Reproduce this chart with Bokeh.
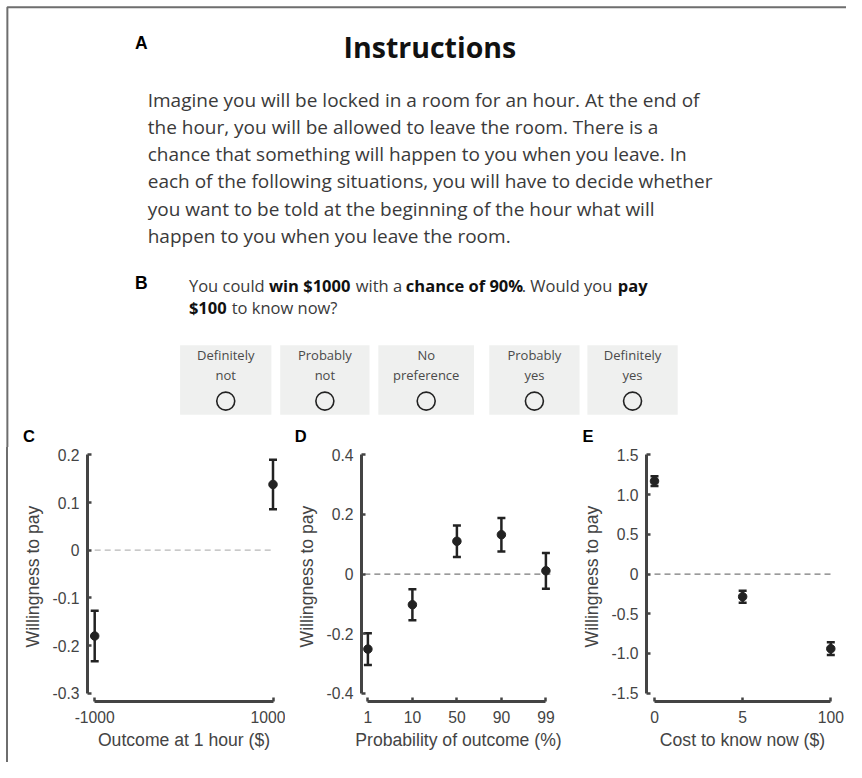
from bokeh.plotting import figure
from bokeh.layouts import row, column
from bokeh.models import Range1d, FixedTicker, Div, Spacer
from bokeh.core.properties import value
from bokeh.embed import file_html
from bokeh.resources import INLINE

# ---------------- data ----------------
# Panel C: outcome at 1 hour ($)
c_outcome = [-1000, 1000]
c_mean = [-0.180, 0.138]
c_err = [0.053, 0.052]
c_yticks = [-0.3, -0.2, -0.1, 0, 0.1, 0.2]
c_ylabels = ["-0.3", "-0.2", "-0.1", "0", "0.1", "0.2"]

# Panel D: probability of outcome (%)
d_prob = ["1", "10", "50", "90", "99"]
d_mean = [-0.252, -0.103, 0.110, 0.132, 0.011]
d_err = [0.053, 0.052, 0.053, 0.056, 0.060]
d_yticks = [-0.4, -0.2, 0, 0.2, 0.4]
d_ylabels = ["-0.4", "-0.2", "0", "0.2", "0.4"]

# Panel E: cost to know now ($)
e_cost = ["0", "5", "100"]
e_mean = [1.170, -0.285, -0.940]
e_err = [0.060, 0.075, 0.080]
e_yticks = [-1.5, -1.0, -0.5, 0, 0.5, 1.0, 1.5]
e_ylabels = ["-1.5", "-1.0", "-0.5", "0", "0.5", "1.0", "1.5"]

# Panel A / B texts
title_text = "Instructions"
paragraph = [
    "Imagine you will be locked in a room for an hour. At the end of",
    "the hour, you will be allowed to leave the room. There is a",
    "chance that something will happen to you when you leave. In",
    "each of the following situations, you will have to decide whether",
    "you want to be told at the beginning of the hour what will",
    "happen to you when you leave the room.",
]
q_line1 = ["You could", "win $1000", "with a", "chance of 90%", ". Would you", "pay"]
q_line1_bold = [False, True, False, True, False, True]
q_line2 = ["$100", "to know now?"]
q_line2_bold = [True, False]
options_top = ["Definitely", "Probably", "No", "Probably", "Definitely"]
options_bottom = ["not", "not", "preference", "yes", "yes"]

# ---------------- style ----------------
AX = "#444444"
DARK = "#222222"
BORDER = "#6e6e6e"
SANS = "Liberation Sans"
WEB = "Open Sans"

W, H = 846, 762
TOP_H = 447
PAN_H = H - TOP_H
SX = W / 862.0
SY = H / 778.0

# ---------------- top (A, B) ----------------
top = figure(width=W, height=TOP_H, x_range=Range1d(0, W / SX), y_range=Range1d(TOP_H / SY, 0),
             output_backend="svg", toolbar_location=None, min_border=0,
             x_axis_type=None, y_axis_type=None, outline_line_color=None)
top.grid.visible = False

# frame border (top and left)
top.line(x=[7, 7, W / SX], y=[TOP_H / SY, 7, 7], line_color=BORDER, line_width=2)

# panel letters
top.text(x=[143.5, 143.5], y=[43.5, 288.5], text=["A", "B"], text_font=value(SANS),
         text_font_style="bold", text_font_size="17.5px", text_align="center",
         text_baseline="middle", text_color="#000000")
top.text(x=[29, 306, 598.5], y=[445, 445, 445], text=["C", "D", "E"], text_font=value(SANS),
         text_font_style="bold", text_font_size="16.5px", text_align="center",
         text_baseline="middle", text_color="#000000")

top.text(x=[437.5], y=[47.5], text=[title_text], text_font=value(WEB), text_font_style="bold",
         text_font_size="28.5px", text_align="center", text_baseline="middle",
         text_color="#111111")

para_y = [102 + 27.6 * i for i in range(len(paragraph))]
top.text(x=[150] * len(paragraph), y=para_y, text=paragraph, text_font=value(WEB),
         text_font_size="19px", text_align="left", text_baseline="middle", text_color="#3a3a3a")

# question with bold segments
q1_x = [192, 273.5, 362, 413, 531, 629]
q2_x = [192, 235.5]
for segs, bolds, xs, yy in ((q_line1, q_line1_bold, q1_x, 291), (q_line2, q_line2_bold, q2_x, 313)):
    for s, b, xx in zip(segs, bolds, xs):
        top.text(x=[xx], y=[yy], text=[s], text_font=value(WEB),
                 text_font_style="bold" if b else "normal", text_font_size="16.5px",
                 text_align="left", text_baseline="middle",
                 text_color="#111111" if b else "#3a3a3a")

# response boxes
box_left = [183, 285, 385, 498, 598]
box_right = [276, 376, 482.5, 590, 690]
box_cx = [(l + r) / 2 for l, r in zip(box_left, box_right)]
top.quad(left=box_left, right=box_right, top=[352] * 5, bottom=[423] * 5,
         fill_color="#eff0ef", line_color=None)
top.text(x=box_cx, y=[362] * 5, text=options_top, text_font=value(WEB), text_font_size="13px",
         text_align="center", text_baseline="middle", text_color="#4a4a4a")
top.text(x=box_cx, y=[382] * 5, text=options_bottom, text_font=value(WEB), text_font_size="13px",
         text_align="center", text_baseline="middle", text_color="#4a4a4a")
top.scatter(x=box_cx, y=[409] * 5, marker="circle", size=18, fill_color=None,
            line_color="#222222", line_width=1.6)

# ---------------- panels ----------------
MB_TOP, MB_BOTTOM = 4, 61
FRAME_H = PAN_H - MB_TOP - MB_BOTTOM      # 250
BOUND_TOP_PAD, BOUND_BOT_PAD = 3.4, 8.3


def y_range_for(lo, hi):
    scale = (FRAME_H - BOUND_TOP_PAD - BOUND_BOT_PAD) / (hi - lo)
    return Range1d(lo - BOUND_BOT_PAD / scale, hi + BOUND_TOP_PAD / scale)


def x_range_for(first_val, last_val, first_px, last_px, frame_w):
    scale = (last_px - first_px) / (last_val - first_val)
    start = first_val - first_px / scale
    return Range1d(start, start + frame_w / scale)


def panel(width, mleft, mright, first_px, last_px, xticks, xlabels, yticks, ylabels, xlabel,
          x, mean, err, zero_x, zero_color):
    frame_w = width - mleft - mright
    p = figure(width=width, height=PAN_H,
               x_range=x_range_for(xticks[0], xticks[-1], first_px, last_px, frame_w),
               y_range=y_range_for(yticks[0], yticks[-1]),
               output_backend="svg", toolbar_location=None,
               min_border_left=mleft, min_border_right=mright, min_border_top=MB_TOP,
               min_border_bottom=MB_BOTTOM, outline_line_color=None)
    p.grid.visible = False
    for ax in (p.xaxis[0], p.yaxis[0]):
        ax.axis_line_color = AX
        ax.axis_line_width = 3
        ax.major_tick_line_color = AX
        ax.major_tick_line_width = 2.5
        ax.major_tick_in = 4
        ax.major_tick_out = 0
        ax.minor_tick_line_color = None
        ax.major_label_text_font = SANS
        ax.major_label_text_font_size = "15.7px"
        ax.major_label_text_color = AX
        ax.axis_label_text_font = SANS
        ax.axis_label_text_font_size = "17.6px"
        ax.axis_label_text_font_style = "normal"
        ax.axis_label_text_color = AX
    xa, ya = p.xaxis[0], p.yaxis[0]
    xa.ticker = FixedTicker(ticks=xticks)
    xa.bounds = (xticks[0], xticks[-1])
    xa.major_label_overrides = {t: l for t, l in zip(xticks, xlabels)}
    xa.major_label_standoff = 9
    xa.axis_label = xlabel
    xa.axis_label_standoff = 4
    ya.ticker = FixedTicker(ticks=yticks)
    ya.bounds = (yticks[0], yticks[-1])
    ya.major_label_overrides = {t: l for t, l in zip(yticks, ylabels)}
    ya.major_label_standoff = 8
    ya.axis_label = "Willingness to pay"
    ya.axis_label_standoff = 6

    p.line(x=zero_x, y=[0, 0], line_color=zero_color, line_width=1.3, line_dash="6 4")
    lo = [m - e for m, e in zip(mean, err)]
    hi = [m + e for m, e in zip(mean, err)]
    p.segment(x0=x, y0=lo, x1=x, y1=hi, line_color=DARK, line_width=2.5)
    p.scatter(x=list(x) + list(x), y=lo + hi, marker="dash", size=8, line_color=DARK,
              line_width=2.5)
    p.scatter(x=x, y=mean, marker="circle", size=8.5, fill_color=DARK, line_color=DARK)
    return p


# C (left part of its column is the frame border)
pc = panel(277, 79, 5, 7.2, 185.5,
           c_outcome, [str(v) for v in c_outcome], c_yticks, c_ylabels,
           "Outcome at 1 hour ($)", c_outcome, c_mean, c_err,
           [c_outcome[0], c_outcome[-1]], "#b8b8b8")

# D
d_pos = list(range(len(d_prob)))
pd_ = panel(284, 76, 14, 6.4, 184.4,
            d_pos, d_prob, d_yticks, d_ylabels,
            "Probability of outcome (%)", d_pos, d_mean, d_err,
            [d_pos[0] - 0.08, d_pos[-1] + 0.13], "#7a7a7a")

# E
e_pos = list(range(len(e_cost)))
pe = panel(277, 77, 8, 8, 184.3,
           e_pos, e_cost, e_yticks, e_ylabels,
           "Cost to know now ($)", e_pos, e_mean, e_err,
           [e_pos[0], e_pos[-1]], "#7a7a7a")

gap = Spacer(width=6, height=PAN_H, margin=0)
bar = Div(text="", width=2, height=PAN_H, margin=0, styles={"background-color": BORDER})

layout = column(top, row(gap, bar, pc, pd_, pe))

open("out.html", "w").write(file_html(layout, INLINE))
